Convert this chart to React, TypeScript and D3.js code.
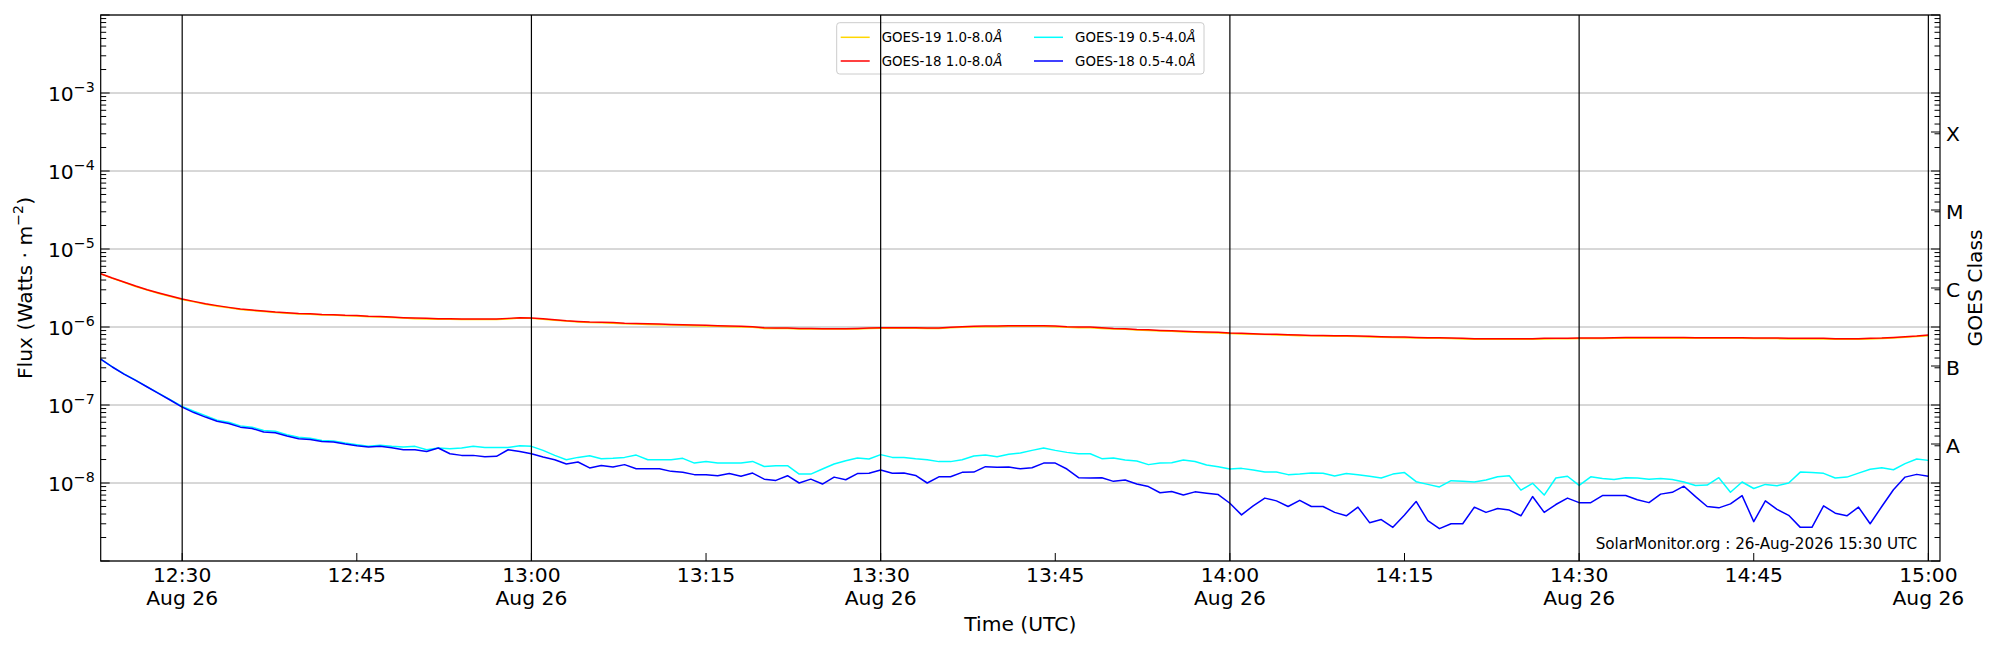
import { useEffect, useRef } from 'react';
import * as d3 from 'd3';

// GOES X-ray flux, 1-minute cadence starting at 12:23 UTC
const START_TIME = '2026-08-26T12:23:00Z';
const X_END = '2026-08-26T15:01:00Z';
const CADENCE_MIN = 1;

const G19_LONG = [
  4.80e-6, 4.20e-6, 3.73e-6, 3.31e-6, 2.97e-6, 2.69e-6, 2.45e-6, 2.25e-6, 2.10e-6, 1.96e-6,
  1.85e-6, 1.76e-6, 1.68e-6, 1.63e-6, 1.58e-6, 1.53e-6, 1.50e-6, 1.47e-6, 1.46e-6, 1.43e-6,
  1.42e-6, 1.39e-6, 1.38e-6, 1.35e-6, 1.34e-6, 1.32e-6, 1.30e-6, 1.28e-6,
  1.27e-6, 1.26e-6, 1.26e-6, 1.25e-6, 1.25e-6, 1.25e-6, 1.25e-6, 1.27e-6, 1.30e-6, 1.29e-6,
  1.26e-6, 1.22e-6, 1.19e-6, 1.16e-6, 1.14e-6, 1.13e-6, 1.12e-6, 1.10e-6, 1.09e-6, 1.08e-6,
  1.07e-6, 1.06e-6, 1.05e-6, 1.04e-6, 1.03e-6, 1.02e-6, 1.01e-6, 1.00e-6, 0.99e-6,
  0.96e-6, 0.955e-6, 0.955e-6, 0.945e-6, 0.945e-6, 0.94e-6, 0.94e-6, 0.94e-6, 0.945e-6, 0.955e-6,
  0.965e-6, 0.965e-6, 0.965e-6, 0.965e-6, 0.955e-6, 0.955e-6, 0.975e-6, 0.99e-6, 1.00e-6, 1.01e-6,
  1.01e-6, 1.02e-6, 1.02e-6, 1.02e-6, 1.02e-6, 1.01e-6, 0.99e-6, 0.98e-6,
  0.98e-6, 0.96e-6, 0.945e-6, 0.935e-6, 0.915e-6, 0.905e-6, 0.89e-6, 0.88e-6, 0.865e-6, 0.855e-6,
  0.845e-6, 0.84e-6, 0.825e-6, 0.815e-6, 0.805e-6, 0.80e-6, 0.79e-6, 0.785e-6, 0.775e-6, 0.77e-6,
  0.765e-6, 0.76e-6, 0.76e-6, 0.755e-6, 0.745e-6, 0.74e-6, 0.735e-6, 0.73e-6, 0.725e-6,
  0.715e-6, 0.715e-6, 0.71e-6, 0.70e-6, 0.695e-6, 0.695e-6, 0.695e-6, 0.695e-6, 0.695e-6, 0.695e-6,
  0.70e-6, 0.705e-6, 0.705e-6, 0.71e-6, 0.71e-6, 0.71e-6, 0.715e-6, 0.72e-6, 0.72e-6,
  0.72e-6, 0.72e-6, 0.72e-6, 0.72e-6, 0.715e-6, 0.715e-6, 0.715e-6, 0.715e-6, 0.715e-6, 0.71e-6,
  0.71e-6, 0.71e-6, 0.70e-6, 0.70e-6, 0.70e-6, 0.70e-6, 0.695e-6, 0.695e-6, 0.695e-6, 0.70e-6,
  0.71e-6, 0.725e-6, 0.74e-6, 0.755e-6, 0.775e-6,
];

const G18_LONG = [
  4.82e-6, 4.24e-6, 3.77e-6, 3.35e-6, 3.01e-6, 2.73e-6, 2.49e-6, 2.28e-6, 2.13e-6, 1.99e-6,
  1.88e-6, 1.785e-6, 1.70e-6, 1.65e-6, 1.60e-6, 1.555e-6, 1.525e-6, 1.495e-6, 1.48e-6, 1.45e-6,
  1.44e-6, 1.41e-6, 1.40e-6, 1.37e-6, 1.36e-6, 1.34e-6, 1.316e-6, 1.30e-6,
  1.29e-6, 1.28e-6, 1.28e-6, 1.265e-6, 1.265e-6, 1.265e-6, 1.265e-6, 1.29e-6, 1.316e-6, 1.30e-6,
  1.28e-6, 1.24e-6, 1.205e-6, 1.18e-6, 1.16e-6, 1.15e-6, 1.14e-6, 1.12e-6, 1.11e-6, 1.10e-6,
  1.09e-6, 1.08e-6, 1.07e-6, 1.06e-6, 1.05e-6, 1.04e-6, 1.03e-6, 1.02e-6, 1.01e-6,
  0.98e-6, 0.97e-6, 0.97e-6, 0.96e-6, 0.96e-6, 0.95e-6, 0.95e-6, 0.95e-6, 0.96e-6, 0.97e-6,
  0.98e-6, 0.98e-6, 0.98e-6, 0.98e-6, 0.97e-6, 0.97e-6, 0.99e-6, 1.01e-6, 1.02e-6, 1.03e-6,
  1.03e-6, 1.04e-6, 1.04e-6, 1.04e-6, 1.04e-6, 1.03e-6, 1.01e-6, 1.00e-6,
  1.00e-6, 0.98e-6, 0.96e-6, 0.95e-6, 0.93e-6, 0.92e-6, 0.905e-6, 0.895e-6, 0.88e-6, 0.87e-6,
  0.86e-6, 0.855e-6, 0.837e-6, 0.83e-6, 0.82e-6, 0.81e-6, 0.805e-6, 0.796e-6, 0.79e-6, 0.78e-6,
  0.78e-6, 0.774e-6, 0.774e-6, 0.766e-6, 0.759e-6, 0.75e-6, 0.744e-6, 0.744e-6, 0.736e-6,
  0.729e-6, 0.729e-6, 0.722e-6, 0.715e-6, 0.708e-6, 0.708e-6, 0.708e-6, 0.708e-6, 0.708e-6, 0.708e-6,
  0.715e-6, 0.715e-6, 0.715e-6, 0.722e-6, 0.722e-6, 0.722e-6, 0.729e-6, 0.736e-6, 0.736e-6,
  0.736e-6, 0.736e-6, 0.736e-6, 0.736e-6, 0.729e-6, 0.729e-6, 0.729e-6, 0.729e-6, 0.729e-6, 0.722e-6,
  0.722e-6, 0.722e-6, 0.715e-6, 0.715e-6, 0.715e-6, 0.715e-6, 0.708e-6, 0.708e-6, 0.708e-6, 0.715e-6,
  0.722e-6, 0.736e-6, 0.75e-6, 0.766e-6, 0.79e-6,
];

const G19_SHORT = [
  3.88e-7, 3.08e-7, 2.50e-7, 2.08e-7, 1.71e-7, 1.41e-7, 1.16e-7, 9.6e-8, 8.3e-8, 7.3e-8,
  6.4e-8, 6.0e-8, 5.4e-8, 5.2e-8, 4.7e-8, 4.6e-8, 4.15e-8, 3.85e-8, 3.75e-8, 3.5e-8,
  3.45e-8, 3.25e-8, 3.1e-8, 2.95e-8, 3.05e-8, 2.95e-8, 2.9e-8, 2.95e-8,
  2.67e-8, 2.81e-8, 2.75e-8, 2.81e-8, 2.95e-8, 2.86e-8, 2.86e-8, 2.86e-8, 3.01e-8, 2.95e-8,
  2.62e-8, 2.26e-8, 1.99e-8, 2.13e-8, 2.24e-8, 2.05e-8, 2.07e-8, 2.13e-8, 2.28e-8, 1.99e-8,
  1.99e-8, 1.99e-8, 2.07e-8, 1.80e-8, 1.89e-8, 1.80e-8, 1.80e-8, 1.80e-8, 1.89e-8,
  1.63e-8, 1.67e-8, 1.67e-8, 1.30e-8, 1.30e-8, 1.51e-8, 1.75e-8, 1.93e-8, 2.09e-8, 2.03e-8,
  2.31e-8, 2.13e-8, 2.13e-8, 2.05e-8, 1.99e-8, 1.88e-8, 1.88e-8, 1.99e-8, 2.22e-8, 2.28e-8,
  2.17e-8, 2.33e-8, 2.42e-8, 2.62e-8, 2.81e-8, 2.62e-8, 2.47e-8, 2.37e-8,
  2.37e-8, 2.05e-8, 2.09e-8, 1.97e-8, 1.91e-8, 1.72e-8, 1.80e-8, 1.82e-8, 1.97e-8, 1.89e-8,
  1.70e-8, 1.62e-8, 1.51e-8, 1.54e-8, 1.47e-8, 1.38e-8, 1.38e-8, 1.28e-8, 1.30e-8, 1.34e-8,
  1.33e-8, 1.23e-8, 1.32e-8, 1.28e-8, 1.22e-8, 1.16e-8, 1.30e-8, 1.36e-8, 1.04e-8,
  0.96e-8, 0.89e-8, 1.07e-8, 1.05e-8, 1.03e-8, 1.09e-8, 1.20e-8, 1.24e-8, 0.81e-8, 0.99e-8,
  0.70e-8, 1.16e-8, 1.22e-8, 0.93e-8, 1.20e-8, 1.14e-8, 1.11e-8, 1.17e-8, 1.16e-8,
  1.12e-8, 1.14e-8, 1.11e-8, 1.03e-8, 0.93e-8, 0.94e-8, 1.17e-8, 0.76e-8, 1.03e-8, 0.85e-8,
  0.96e-8, 0.92e-8, 1.00e-8, 1.38e-8, 1.36e-8, 1.33e-8, 1.16e-8, 1.19e-8, 1.34e-8, 1.50e-8,
  1.57e-8, 1.48e-8, 1.77e-8, 2.03e-8, 1.95e-8,
];

const G18_SHORT = [
  3.88e-7, 3.07e-7, 2.49e-7, 2.07e-7, 1.70e-7, 1.40e-7, 1.15e-7, 9.4e-8, 8.0e-8, 7.0e-8,
  6.2e-8, 5.8e-8, 5.2e-8, 5.0e-8, 4.5e-8, 4.4e-8, 4.0e-8, 3.7e-8, 3.6e-8, 3.4e-8,
  3.35e-8, 3.16e-8, 3.01e-8, 2.89e-8, 2.95e-8, 2.84e-8, 2.67e-8, 2.67e-8,
  2.54e-8, 2.81e-8, 2.37e-8, 2.26e-8, 2.26e-8, 2.17e-8, 2.20e-8, 2.67e-8, 2.54e-8, 2.37e-8,
  2.15e-8, 1.99e-8, 1.75e-8, 1.86e-8, 1.56e-8, 1.68e-8, 1.60e-8, 1.72e-8, 1.52e-8, 1.52e-8,
  1.52e-8, 1.41e-8, 1.37e-8, 1.28e-8, 1.28e-8, 1.24e-8, 1.32e-8, 1.22e-8, 1.34e-8,
  1.12e-8, 1.08e-8, 1.24e-8, 1.00e-8, 1.12e-8, 0.97e-8, 1.19e-8, 1.10e-8, 1.32e-8, 1.33e-8,
  1.47e-8, 1.33e-8, 1.34e-8, 1.25e-8, 1.00e-8, 1.20e-8, 1.20e-8, 1.37e-8, 1.38e-8, 1.62e-8,
  1.59e-8, 1.60e-8, 1.52e-8, 1.57e-8, 1.80e-8, 1.80e-8, 1.51e-8, 1.17e-8,
  1.16e-8, 1.17e-8, 1.05e-8, 1.09e-8, 0.97e-8, 0.90e-8, 0.75e-8, 0.78e-8, 0.70e-8, 0.77e-8,
  0.74e-8, 0.71e-8, 0.55e-8, 0.39e-8, 0.51e-8, 0.64e-8, 0.59e-8, 0.50e-8, 0.60e-8, 0.50e-8,
  0.50e-8, 0.42e-8, 0.38e-8, 0.49e-8, 0.31e-8, 0.34e-8, 0.27e-8, 0.39e-8, 0.58e-8,
  0.33e-8, 0.26e-8, 0.30e-8, 0.30e-8, 0.49e-8, 0.42e-8, 0.47e-8, 0.45e-8, 0.38e-8, 0.67e-8,
  0.42e-8, 0.53e-8, 0.64e-8, 0.56e-8, 0.56e-8, 0.69e-8, 0.69e-8, 0.69e-8, 0.61e-8,
  0.56e-8, 0.72e-8, 0.76e-8, 0.91e-8, 0.67e-8, 0.50e-8, 0.48e-8, 0.54e-8, 0.69e-8, 0.32e-8,
  0.59e-8, 0.46e-8, 0.385e-8, 0.27e-8, 0.27e-8, 0.51e-8, 0.41e-8, 0.38e-8, 0.49e-8, 0.30e-8,
  0.50e-8, 0.82e-8, 1.19e-8, 1.29e-8, 1.22e-8,
];

const SERIES = [
  { name: 'GOES-19 1.0-8.0', color: '#ffd700', values: G19_LONG },
  { name: 'GOES-18 1.0-8.0', color: '#ff0000', values: G18_LONG },
  { name: 'GOES-19 0.5-4.0', color: '#00ffff', values: G19_SHORT },
  { name: 'GOES-18 0.5-4.0', color: '#0000ff', values: G18_SHORT },
];

const X_TICKS = ['12:30', '12:45', '13:00', '13:15', '13:30', '13:45', '14:00', '14:15', '14:30', '14:45', '15:00'];
const DAY = '2026-08-26';
const DAY_LABEL = 'Aug 26';
const Y_LABEL_EXPONENTS = [-3, -4, -5, -6, -7, -8];
const GOES_CLASSES = ['A', 'B', 'C', 'M', 'X'];
const CLASS_CENTERS = [-7.5, -6.5, -5.5, -4.5, -3.5];
const WATERMARK = 'SolarMonitor.org : 26-Aug-2026 15:30 UTC';

const W = 2000;
const H = 650;
const PLOT = { left: 100.7, right: 1940, top: 15, bottom: 561 };
const FONT = '"DejaVu Sans", sans-serif';

export default function App() {
  const svgRef = useRef<SVGSVGElement>(null);

  useEffect(() => {
    if (!svgRef.current) return;
    const svg = d3.select(svgRef.current);
    svg.selectAll('*').remove();

    const start = new Date(START_TIME);
    const times = G18_LONG.map((_, i) => new Date(+start + i * CADENCE_MIN * 60000));

    const x = d3.scaleUtc().domain([start, new Date(X_END)]).range([PLOT.left, PLOT.right]);
    const y = d3.scaleLog().domain([1e-9, 1e-2]).range([PLOT.bottom, PLOT.top]);

    svg.append('rect').attr('width', W).attr('height', H).attr('fill', '#ffffff');

    // horizontal decade grid
    const decades = d3.range(-9, -1).map((e) => Math.pow(10, e));
    svg.append('g')
      .selectAll('line')
      .data(decades)
      .join('line')
      .attr('x1', PLOT.left)
      .attr('x2', PLOT.right)
      .attr('y1', (d) => y(d))
      .attr('y2', (d) => y(d))
      .attr('stroke', '#b0b0b0')
      .attr('stroke-width', 1);

    // data lines
    const line = d3
      .line<number>()
      .x((_, i) => x(times[i]))
      .y((d) => y(d));
    svg.append('g')
      .selectAll('path')
      .data(SERIES)
      .join('path')
      .attr('d', (s) => line(s.values))
      .attr('fill', 'none')
      .attr('stroke', (s) => s.color)
      .attr('stroke-width', 1.5)
      .attr('stroke-linejoin', 'round');

    // legend
    const lg = svg.append('g').attr('font-family', FONT).attr('font-size', 13.4);
    lg.append('rect')
      .attr('x', 836.7)
      .attr('y', 22.7)
      .attr('width', 367.3)
      .attr('height', 51.3)
      .attr('rx', 3)
      .attr('fill', '#ffffff')
      .attr('fill-opacity', 0.8)
      .attr('stroke', '#cccccc')
      .attr('stroke-width', 1);
    const cols = [840.7, 1034];
    const rows = [37.3, 61];
    SERIES.forEach((s, i) => {
      const cx = cols[Math.floor(i / 2)];
      const cy = rows[i % 2];
      lg.append('line')
        .attr('x1', cx)
        .attr('x2', cx + 29)
        .attr('y1', cy)
        .attr('y2', cy)
        .attr('stroke', s.color)
        .attr('stroke-width', 1.5);
      const t = lg.append('text').attr('x', cx + 41).attr('y', cy + 4.8).attr('fill', '#000');
      t.append('tspan').text(s.name);
      t.append('tspan').attr('font-style', 'italic').text('Å');
    });

    // vertical half-hour lines
    const tickDates = X_TICKS.map((t) => new Date(`${DAY}T${t}:00Z`));
    const halfHours = tickDates.filter((d) => d.getUTCMinutes() % 30 === 0);
    svg.append('g')
      .selectAll('line')
      .data(halfHours)
      .join('line')
      .attr('x1', (d) => x(d))
      .attr('x2', (d) => x(d))
      .attr('y1', PLOT.top)
      .attr('y2', PLOT.bottom)
      .attr('stroke', '#000')
      .attr('stroke-width', 1.2);

    // ticks, all pointing inward
    const minor: number[] = [];
    d3.range(-9, -2).forEach((e) => {
      for (let k = 2; k <= 9; k++) minor.push(k * Math.pow(10, e));
    });
    const ticks = svg.append('g').attr('stroke', '#000').attr('stroke-width', 1);
    const yTick = (vals: number[], len: number) => {
      vals.forEach((v) => {
        const yy = y(v);
        ticks.append('line').attr('x1', PLOT.left).attr('x2', PLOT.left + len).attr('y1', yy).attr('y2', yy);
        ticks.append('line').attr('x1', PLOT.right).attr('x2', PLOT.right - len).attr('y1', yy).attr('y2', yy);
      });
    };
    yTick(decades, 9);
    yTick(minor, 5.5);
    CLASS_CENTERS.forEach((c) => {
      const yy = y(Math.pow(10, c));
      ticks.append('line').attr('x1', PLOT.right).attr('x2', PLOT.right - 9).attr('y1', yy).attr('y2', yy);
    });
    tickDates.forEach((d) => {
      ticks.append('line')
        .attr('x1', x(d))
        .attr('x2', x(d))
        .attr('y1', PLOT.bottom)
        .attr('y2', PLOT.bottom - 8);
    });

    // frame
    svg.append('rect')
      .attr('x', PLOT.left)
      .attr('y', PLOT.top)
      .attr('width', PLOT.right - PLOT.left)
      .attr('height', PLOT.bottom - PLOT.top)
      .attr('fill', 'none')
      .attr('stroke', '#000')
      .attr('stroke-width', 1.2);

    const txt = svg.append('g').attr('font-family', FONT).attr('fill', '#000');

    // y tick labels
    Y_LABEL_EXPONENTS.forEach((e) => {
      const t = txt.append('text')
        .attr('x', PLOT.left - 6)
        .attr('y', y(Math.pow(10, e)) + 7.5)
        .attr('text-anchor', 'end')
        .attr('font-size', 20.3);
      t.append('tspan').text('10');
      t.append('tspan').attr('font-size', 14.2).attr('dy', -9).text(`−${-e}`);
    });

    // x tick labels
    tickDates.forEach((d, i) => {
      const t = txt.append('text').attr('text-anchor', 'middle').attr('font-size', 20.3);
      t.append('tspan').attr('x', x(d)).attr('y', 582).text(X_TICKS[i]);
      if (d.getUTCMinutes() % 30 === 0) {
        t.append('tspan').attr('x', x(d)).attr('y', 605).text(DAY_LABEL);
      }
    });

    // axis titles
    txt.append('text')
      .attr('x', (PLOT.left + PLOT.right) / 2)
      .attr('y', 631)
      .attr('text-anchor', 'middle')
      .attr('font-size', 20.3)
      .text('Time (UTC)');
    const yl = txt.append('text')
      .attr('transform', `translate(32,${(PLOT.top + PLOT.bottom) / 2}) rotate(-90)`)
      .attr('text-anchor', 'middle')
      .attr('font-size', 20.3);
    yl.append('tspan').text('Flux (Watts · m');
    yl.append('tspan').attr('font-size', 14.2).attr('dy', -9).text('−2');
    yl.append('tspan').attr('dy', 9).text(')');

    // GOES class axis
    GOES_CLASSES.forEach((c, i) => {
      txt.append('text')
        .attr('x', PLOT.right + 6)
        .attr('y', y(Math.pow(10, CLASS_CENTERS[i])) + 8.5)
        .attr('font-size', 20.3)
        .text(c);
    });
    txt.append('text')
      .attr('transform', `translate(1982,${(PLOT.top + PLOT.bottom) / 2}) rotate(-90)`)
      .attr('text-anchor', 'middle')
      .attr('font-size', 20.3)
      .text('GOES Class');

    // watermark
    txt.append('text')
      .attr('x', 1917)
      .attr('y', 548.5)
      .attr('text-anchor', 'end')
      .attr('font-size', 15.2)
      .text(WATERMARK);
  }, []);

  return (
    <svg
      ref={svgRef}
      width={W}
      height={H}
      style={{ position: 'absolute', left: 0, top: 0, display: 'block' }}
    />
  );
}
